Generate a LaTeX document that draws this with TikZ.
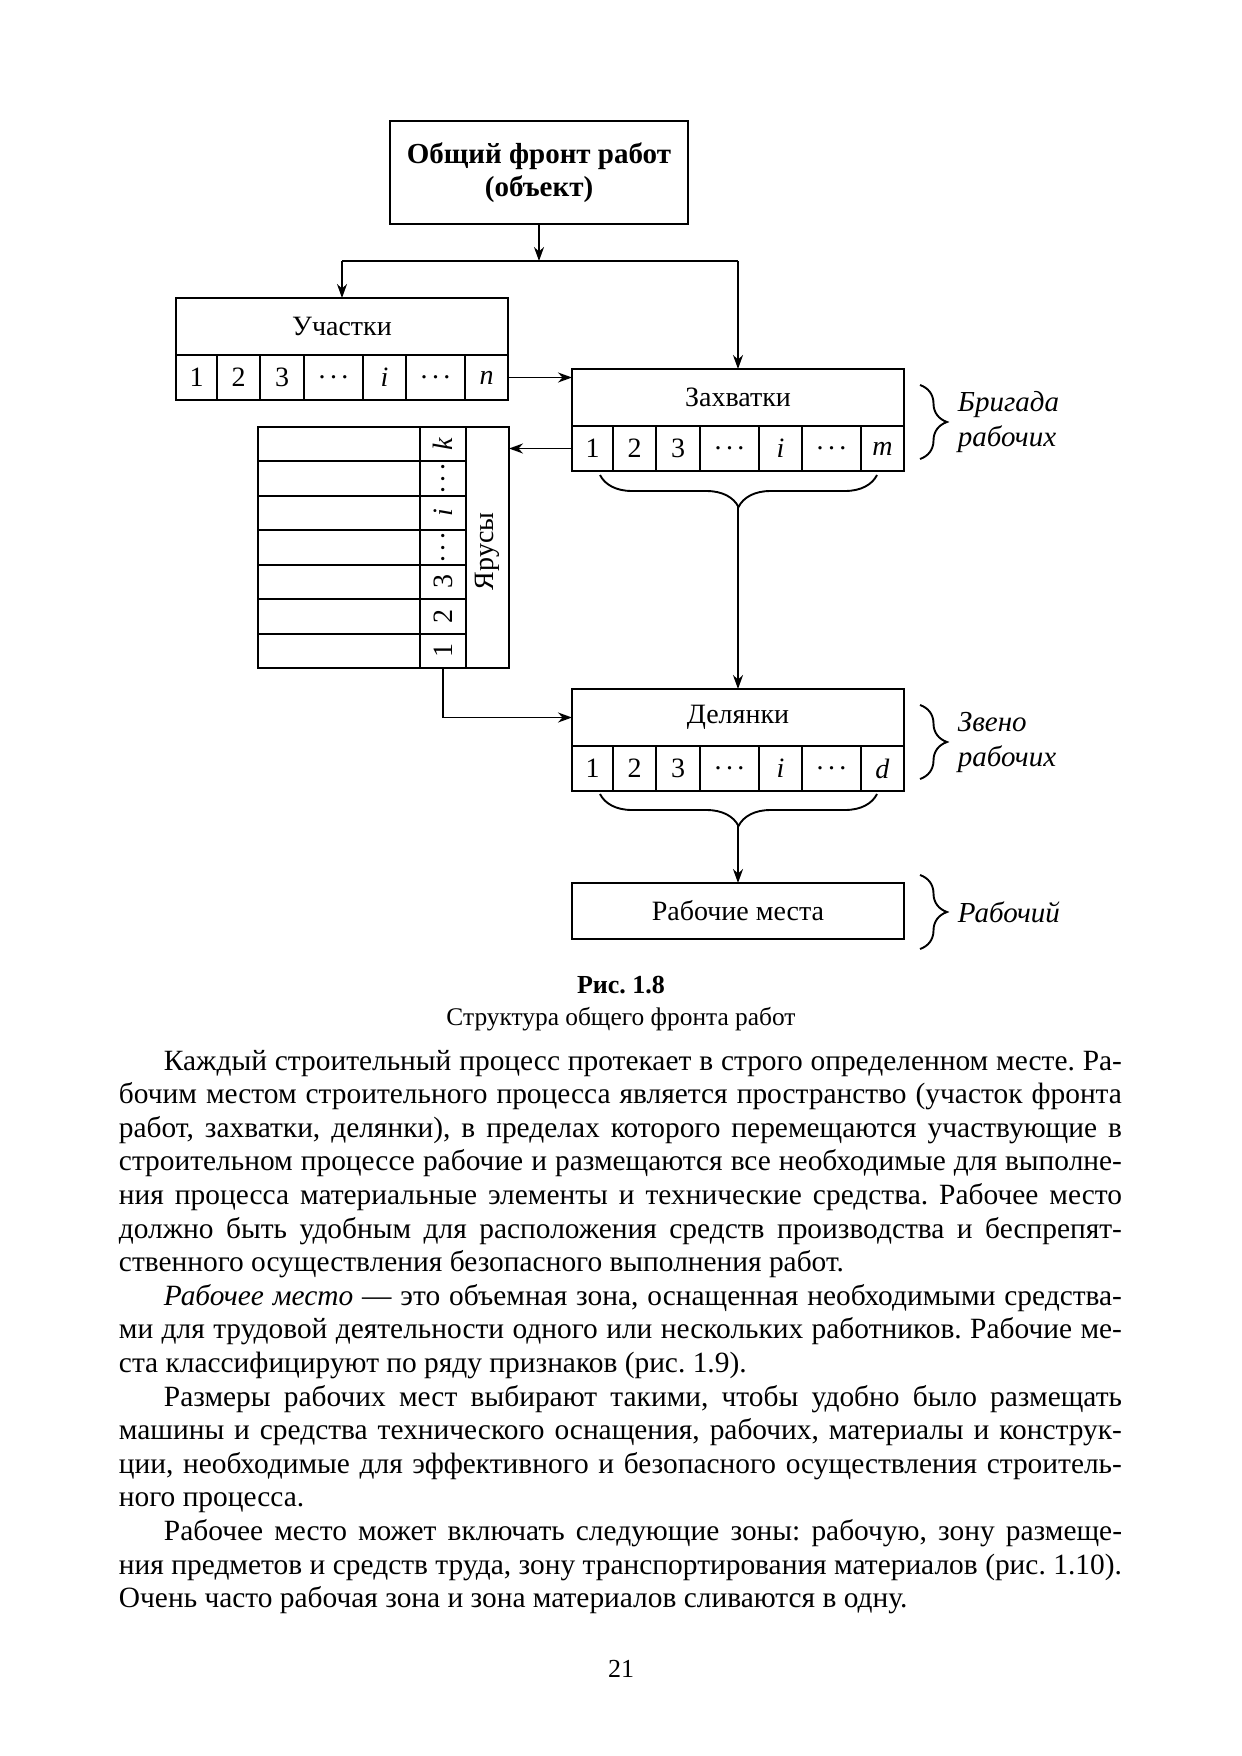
\documentclass[tikz,border=0pt]{standalone}
\usepackage{fontspec}
\setmainfont{Liberation Serif}
\usepackage{graphicx}
\usetikzlibrary{arrows.meta,decorations.pathreplacing,calc}
\frenchspacing

\newcommand\hdfont{\fontsize{14pt}{16pt}\selectfont}
\newcommand\dts{.\hspace{2.2pt}.\hspace{2.2pt}.}
\newcommand\jline[1]{\hbox to 501.5pt{#1}}
\newcommand\iline[1]{\hbox to 501.5pt{\hspace*{22.5pt}#1}}
\newcommand\eline[1]{\hbox{#1}}

\tikzset{
  cellbox/.style={draw, line width=0.95pt, inner sep=0pt, outer sep=0pt, font=\hdfont},
  arr/.style={-{Stealth[length=7pt,width=5pt]}, line width=0.95pt},
  rbrace/.style={decorate, decoration={brace, amplitude=13.5pt}, line width=0.95pt},
  bbrace/.style={decorate, decoration={brace, amplitude=16pt}, line width=0.95pt},
  lbl/.style={font=\fontsize{14.5pt}{17.5pt}\selectfont\itshape, anchor=west, align=left, inner sep=0pt},
}

\newcommand\segbox[5]{%
  \node[cellbox, minimum width=166pt, minimum height=28.5pt, anchor=north west] (#1) at (#2,#3) {#4};
  \foreach \o/\w/\l [count=\k] in {0/41/1,41/43/2,84/44/3,128/59/\dts,187/43/\textit{i},230/59/\dts,289/43/#5}{%
    \node[cellbox, minimum width=\w*0.5pt, minimum height=22.5pt, anchor=north west] (#1-\k) at ({#2+\o},{#3+57}) {\l};
  }%
}

\begin{document}
\begin{tikzpicture}[x=0.5pt,y=-0.5pt, line width=0.95pt]
\useasboundingbox (0,0) rectangle (1242,1756);
\fill[white] (0,0) rectangle (1242,1756);

% top box
\node[cellbox, minimum width=149pt, minimum height=51.5pt, anchor=north west, align=center,
      font=\fontsize{14.5pt}{16.5pt}\selectfont\bfseries] (top) at (390,121) {Общий фронт работ\\(объект)};

% segmented boxes
\segbox{uch}{176}{298}{Участки}{\textit{n}}
\segbox{zah}{572}{369}{Захватки}{\textit{m}}
\segbox{del}{572}{689}{Делянки}{\textit{d}}

% working places
\node[cellbox, minimum width=166pt, minimum height=28pt, anchor=north west] (rab) at (572,883) {Рабочие места};

% tiers block
\node[cellbox, minimum width=21.5pt, minimum height=120.5pt, anchor=north west] (yar) at (466,427) {};
\node[font=\hdfont, rotate=90, inner sep=0pt] (yarT) at ($(yar.center)+(0,4)$) {Ярусы};
\foreach \l [count=\t] in {\textit{k},\dts,\textit{i},\dts,3,2,1}{%
  \node[cellbox, minimum width=81pt, minimum height=17.214pt, anchor=north west] (yl-\t) at (258,{427+34.43*(\t-1)}) {};
  \node[cellbox, minimum width=23pt, minimum height=17.214pt, anchor=north west] (yn-\t) at (420,{427+34.43*(\t-1)}) {\rotatebox{90}{\l}};
}

% connectors
\coordinate (j) at (541,261);
\draw[arr] (top.south) -- (top.south |- j);
\draw (uch.north |- j) -- (zah.north |- j);
\draw[arr] (uch.north |- j) -- (uch.north);
\draw[arr] (zah.north |- j) -- (zah.north);
\draw[arr] (uch-7.east) -- (uch-7.east -| zah.west);
\draw[arr] (zah-1.west) -- (zah-1.west -| yar.east);
\draw[arr] (yn-7.south) |- (del.west);

% braces
\draw[rbrace] (920,385) -- (920,459);
\draw[rbrace] (920,705) -- (920,779);
\draw[rbrace] (920,875) -- (920,949);
\draw[bbrace] (877,475) -- (600,475);
\draw[bbrace] (877,794) -- (600,794);
\coordinate (bz) at (738.5,507);
\coordinate (bd) at (738.5,826);
\draw[arr] (del.north |- bz) -- (del.north);
\draw[arr] (rab.north |- bd) -- (rab.north);

% brace labels
\node[lbl] (brig) at (957,422) {Бригада\\рабочих};
\node[lbl] (zveno) at (957,742) {Звено\\рабочих};
\node[lbl] (rabo) at (957,912) {Рабочий};

% caption
\node[font=\fontsize{13pt}{15pt}\selectfont\bfseries] (cap1) at (621,985) {Рис. 1.8};
\node[font=\fontsize{12.7pt}{15pt}\selectfont] (cap2) at (621,1019) {Структура общего фронта работ};

% body text
\node[anchor=base west, inner sep=0pt, font=\fontsize{14.7pt}{16.8pt}\selectfont] (body) at (118,1070) {\vtop{%
\baselineskip=16.8pt \lineskiplimit=-20pt
\iline{Каждый строительный процесс протекает в строго определенном месте. Ра-}
\jline{бочим местом строительного процесса является пространство (участок фронта}
\jline{работ, захватки, делянки), в пределах которого перемещаются участвующие в}
\jline{строительном процессе рабочие и размещаются все необходимые для выполне-}
\jline{ния процесса материальные элементы и технические средства. Рабочее место}
\jline{должно быть удобным для расположения средств производства и беспрепят-}
\eline{ственного осуществления безопасного выполнения работ.}
\iline{\textit{Рабочее место} — это объемная зона, оснащенная необходимыми средства-}
\jline{ми для трудовой деятельности одного или нескольких работников. Рабочие ме-}
\eline{ста классифицируют по ряду признаков (рис. 1.9).}
\iline{Размеры рабочих мест выбирают такими, чтобы удобно было размещать}
\jline{машины и средства технического оснащения, рабочих, материалы и конструк-}
\jline{ции, необходимые для эффективного и безопасного осуществления строитель-}
\eline{ного процесса.}
\iline{Рабочее место может включать следующие зоны: рабочую, зону размеще-}
\jline{ния предметов и средств труда, зону транспортирования материалов (рис. 1.10).}
\eline{Очень часто рабочая зона и зона материалов сливаются в одну.}
}};

% page number
\node[font=\fontsize{13pt}{15pt}\selectfont] (pg) at (621,1669) {21};
\end{tikzpicture}
\end{document}
